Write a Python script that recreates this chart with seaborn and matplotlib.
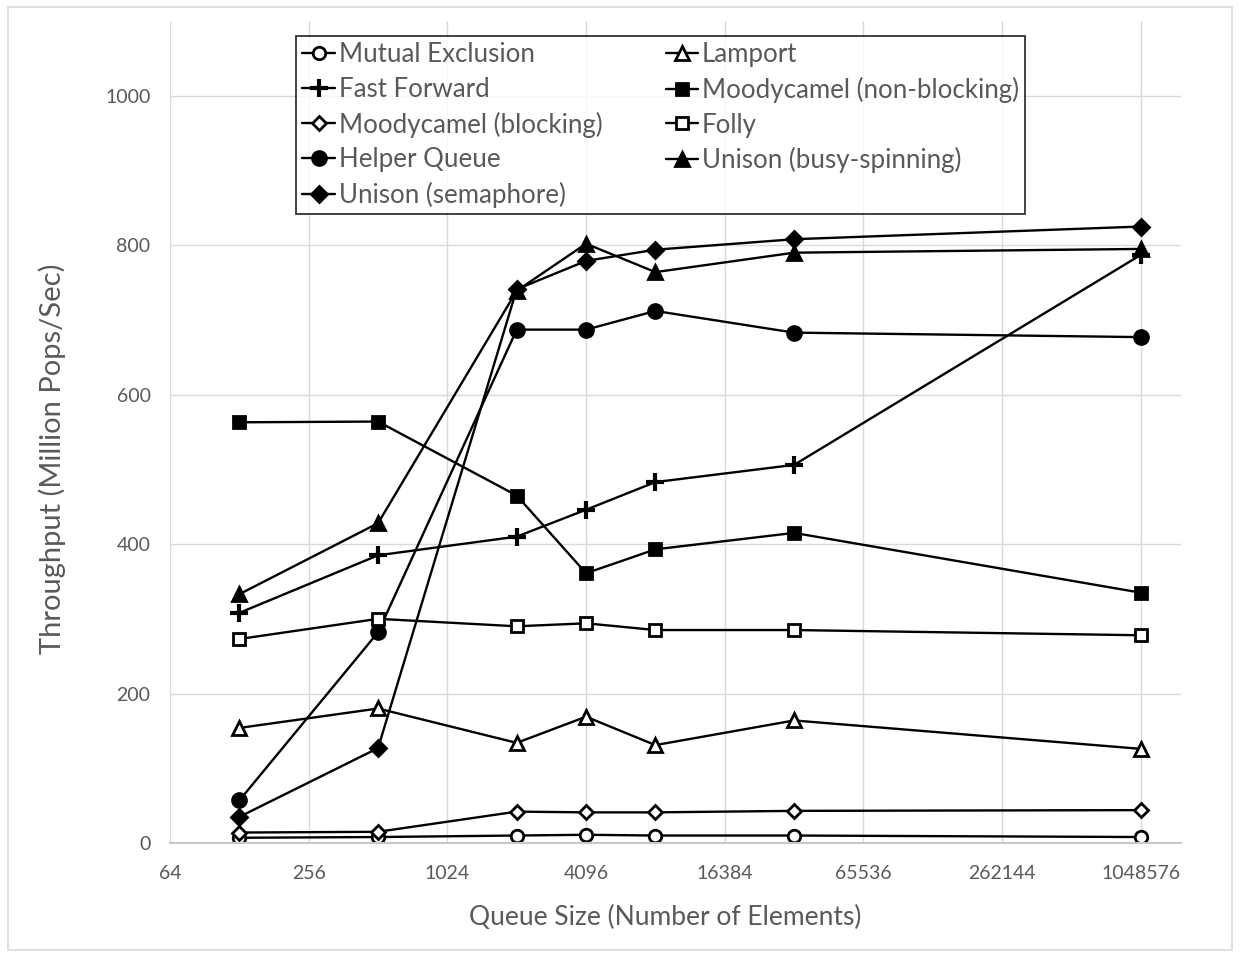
import pandas as pd
import seaborn as sns
import matplotlib.pyplot as plt
from matplotlib.patches import Rectangle

# --- data ---
queue_sizes = [128, 512, 2048, 4096, 8192, 32768, 1048576]

mutual_exclusion = [7, 8, 10, 11, 10, 10, 8]
lamport = [154, 180, 134, 169, 131, 164, 126]
fast_forward = [308, 385, 410, 446, 483, 506, 787]
moody_nonblocking = [563, 564, 465, 361, 393, 415, 335]
moody_blocking = [14, 15, 42, 41, 41, 43, 44]
folly = [273, 300, 290, 294, 285, 285, 278]
helper_queue = [57, 282, 687, 687, 712, 683, 677]
unison_busy = [333, 428, 739, 802, 764, 790, 795]
unison_sema = [35, 127, 741, 779, 794, 808, 825]

x_ticks = [64, 256, 1024, 4096, 16384, 65536, 262144, 1048576]
y_ticks = [0, 200, 400, 600, 800, 1000]

# legend order (matplotlib fills columns first)
series = [
    ("Mutual Exclusion", mutual_exclusion, "o", 9, "white"),
    ("Fast Forward", fast_forward, "+", 13, "black"),
    ("Moodycamel (blocking)", moody_blocking, "D", 7, "white"),
    ("Helper Queue", helper_queue, "o", 10, "black"),
    ("Unison (semaphore)", unison_sema, "D", 8, "black"),
    ("Lamport", lamport, "^", 10, "white"),
    ("Moodycamel (non-blocking)", moody_nonblocking, "s", 9, "black"),
    ("Folly", folly, "s", 9, "white"),
    ("Unison (busy-spinning)", unison_busy, "^", 10, "black"),
]

sns.set_theme(style="white")
plt.rcParams["font.family"] = ["Lato", "DejaVu Sans"]
TEXT = "#595959"
GRID = "#d9d9d9"

fig = plt.figure(figsize=(12.43, 9.56), dpi=100)
ax = fig.add_axes([0.1368, 0.1182, 0.8133, 0.8598])

for name, vals, mk, ms, face in series:
    df = pd.DataFrame({"size": queue_sizes, "tp": vals})
    mew = 3 if mk == "+" else 2
    sns.lineplot(data=df, x="size", y="tp", ax=ax, color="black", lw=1.7,
                 marker=mk, markersize=ms, markerfacecolor=face,
                 markeredgecolor="black", markeredgewidth=mew, label=name)

ax.set_xscale("log", base=2)
ax.set_xlim(64, 2 ** 20.58)
ax.set_ylim(0, 1100)
ax.set_xticks(x_ticks)
ax.set_xticklabels([str(t) for t in x_ticks])
ax.set_yticks(y_ticks)
ax.set_yticklabels([str(t) for t in y_ticks])
ax.minorticks_off()
ax.tick_params(axis="both", length=0, labelsize=14, colors=TEXT)
ax.tick_params(axis="x", pad=16)
ax.tick_params(axis="y", pad=14)
ax.grid(True, color=GRID, lw=1)
ax.set_axisbelow(True)
for s in ["top", "right", "left"]:
    ax.spines[s].set_visible(False)
ax.spines["bottom"].set_color("#c8c8c8")
ax.spines["bottom"].set_linewidth(1.5)

ax.set_xlabel("Queue Size (Number of Elements)", fontsize=19, color=TEXT, va="center")
ax.set_ylabel("Throughput (Million Pops/Sec)", fontsize=21, color=TEXT, va="center")
ax.xaxis.set_label_coords(0.49, -0.091)
ax.yaxis.set_label_coords(-0.117, 0.468)

leg = ax.legend(ncol=2, loc="upper left", bbox_to_anchor=(0.1246, 0.982),
                borderaxespad=0, fontsize=18.6, frameon=True, fancybox=False,
                borderpad=0.25, handlelength=1.25, handletextpad=0.15,
                columnspacing=2.45, labelspacing=0.37)
leg.get_frame().set_edgecolor("black")
leg.get_frame().set_linewidth(1.3)
for t in leg.get_texts():
    t.set_color(TEXT)

# light outer border like the chart area frame
fig.patches.append(Rectangle((8 / 1243, 6 / 956), 1224 / 1243, 943 / 956,
                             transform=fig.transFigure, fill=False,
                             edgecolor=GRID, lw=1.2))

fig.savefig("out.png", dpi=100)
